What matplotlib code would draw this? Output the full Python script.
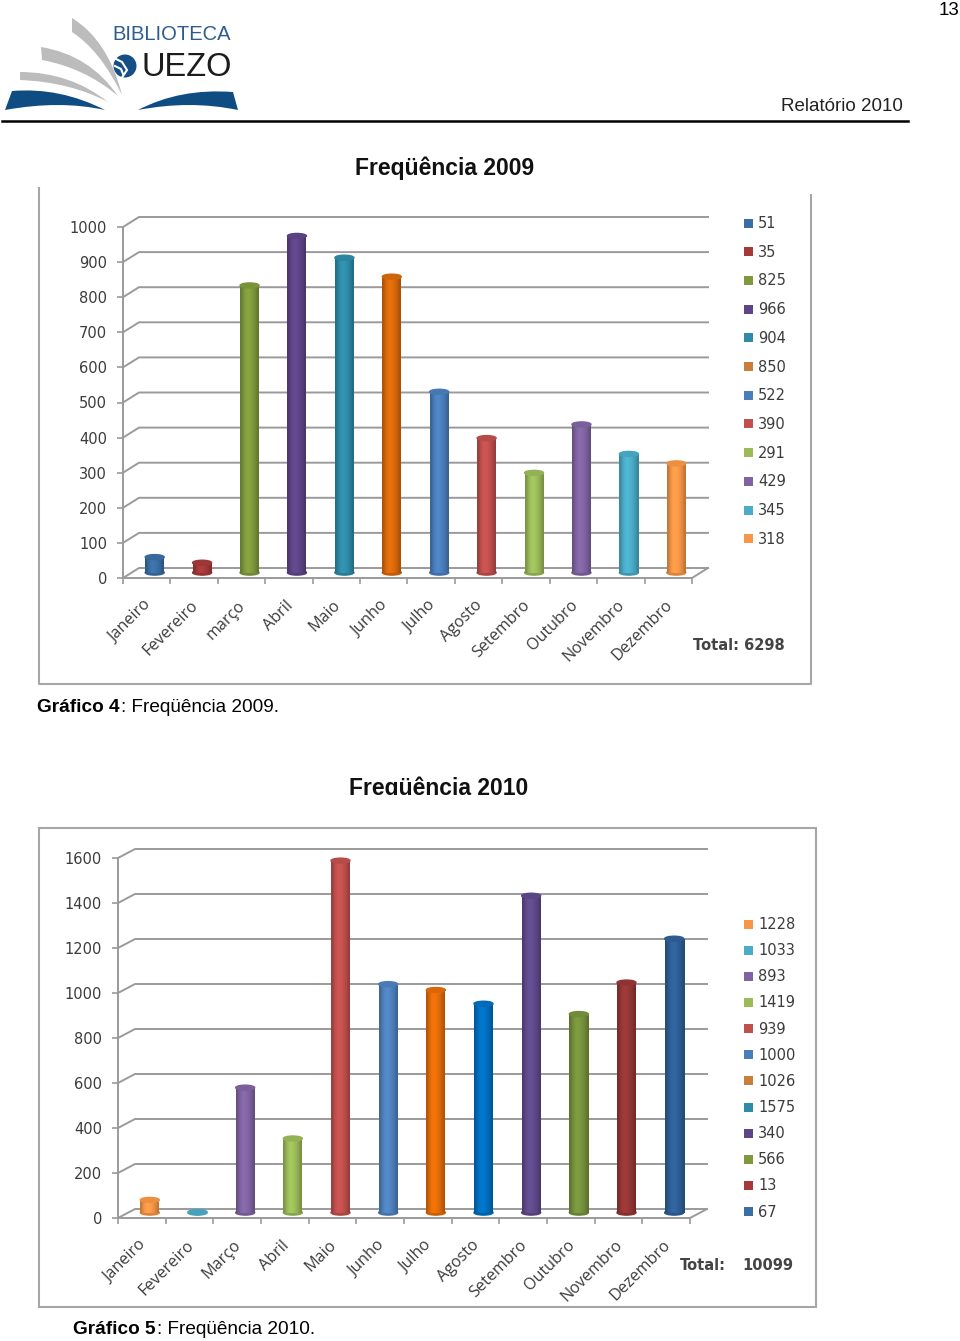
import numpy as np
import matplotlib
matplotlib.use('Agg')
import matplotlib.pyplot as plt
from matplotlib.patches import Ellipse, PathPatch, Rectangle, Circle
from matplotlib.path import Path
from matplotlib.colors import to_rgb
from matplotlib.transforms import ScaledTranslation

W, H = 960, 1341

months_2009 = ['Janeiro', 'Fevereiro', 'março', 'Abril', 'Maio', 'Junho', 'Julho',
               'Agosto', 'Setembro', 'Outubro', 'Novembro', 'Dezembro']
values_2009 = [51, 35, 825, 966, 904, 850, 522, 390, 291, 429, 345, 318]
colors_2009 = ['#3a6ea5', '#a5393a', '#7f9a3d', '#5e4586', '#2f8ba8', '#d9690c',
               '#4a7ebb', '#c0504d', '#9bbb59', '#8064a2', '#4bacc6', '#f79646']
legend_colors_2009 = ['#3a6ea5', '#a5393a', '#7f9a3d', '#5e4586', '#2f8ba8', '#c87f3c',
                      '#4a7ebb', '#c0504d', '#9bbb59', '#8064a2', '#4bacc6', '#f79646']
ticks_2009 = [0, 100, 200, 300, 400, 500, 600, 700, 800, 900, 1000]

months_2010 = ['Janeiro', 'Fevereiro', 'Março', 'Abril', 'Maio', 'Junho', 'Julho',
               'Agosto', 'Setembro', 'Outubro', 'Novembro', 'Dezembro']
values_2010 = [67, 13, 566, 340, 1575, 1026, 1000, 939, 1419, 893, 1033, 1228]
colors_2010 = ['#f79646', '#4bacc6', '#8064a2', '#9bbb59', '#c0504d', '#4f81bd',
               '#e46c0a', '#0070c0', '#5f4a8b', '#76923c', '#953735', '#2f5f97']
ticks_2010 = [0, 200, 400, 600, 800, 1000, 1200, 1400, 1600]
# legend of 2010 runs from december down to january, with its own colours
legend_2010 = values_2010[::-1]
legend_colors_2010 = ['#f79646', '#4bacc6', '#8064a2', '#9bbb59', '#c0504d', '#4a7ebb',
                      '#c87f3c', '#2f8ba8', '#5e4586', '#7f9a3d', '#a5393a', '#3a6ea5']

shade = np.array([0.8, 0.95, 1.05, 1.08, 1.04, 0.98, 0.9, 0.78])
axis_gray = '#9a9a9a'
label_font = 'Open Sans'
number_font = 'DejaVu Sans'

fig = plt.figure(figsize=(W / 100, H / 100), dpi=100)

# whole page in pixel coordinates, for the things that are not the chart
page = fig.add_axes([0, 0, 1, 1])
page.set_xlim(0, W)
page.set_ylim(H, 0)
page.axis('off')


def chart(left, right, y0, ytop, values, colors, labels, ticks, back_dx, back_dy, wall_right):
    ax = fig.add_axes([left / W, 1 - y0 / H, (right - left) / W, (y0 - ytop) / H])
    ax.patch.set_alpha(0)
    ax.set_xlim(-0.5, 11.5)
    ax.set_ylim(0, ticks[-1])
    ax.set_autoscale_on(False)
    xpx = (right - left) / 12
    ypx = (y0 - ytop) / ticks[-1]

    # back wall lines
    end = (wall_right - left) / xpx - 0.5
    for v in ticks:
        yb = v + back_dy / ypx
        ax.plot([-0.5, -0.5 + back_dx / xpx, end], [v, yb, yb], color=axis_gray, lw=1.4,
                clip_on=False, zorder=1)
    ax.plot([11.5, end], [0, back_dy / ypx], color=axis_gray, lw=1.4, clip_on=False, zorder=1)

    # cylinders
    bw = 19 / xpx
    ox = 8 / xpx
    oy = 3 / ypx
    eh = 5 / ypx
    for i, v in enumerate(values):
        c = np.array(to_rgb(colors[i]))
        grad = np.clip(shade[:, None] * c[None, :], 0, 1)[None, :, :]
        x = i + ox
        base = Ellipse((x, oy * 1.8), bw, eh, color=tuple(c * 0.88), zorder=3, clip_on=False)
        ax.add_patch(base)
        ax.imshow(grad, extent=(x - bw / 2, x + bw / 2, oy * 1.8, v + oy), aspect='auto',
                  interpolation='bilinear', zorder=4, clip_on=False)
        top = Ellipse((x, v + oy), bw, eh, color=tuple(c * 0.95), zorder=5, clip_on=False)
        ax.add_patch(top)

    for s in ['top', 'right']:
        ax.spines[s].set_visible(False)
    for s in ['left', 'bottom']:
        ax.spines[s].set_color(axis_gray)
        ax.spines[s].set_linewidth(1.4)
    ax.set_yticks(ticks)
    ax.set_yticklabels([str(t) for t in ticks], fontsize=10.5, color='#3c3c3c', family=number_font)
    ax.tick_params(axis='y', length=4.5, width=1.2, color=axis_gray, pad=7)
    ax.set_xticks(np.arange(12))
    ax.set_xticklabels(labels, rotation=45, ha='right', va='top', rotation_mode='anchor',
                       fontsize=11.6, color='#3c3c3c', family=label_font)
    ax.set_xticks(np.arange(13) - 0.5, minor=True)
    ax.tick_params(axis='x', which='major', length=0, pad=14)
    ax.tick_params(axis='x', which='minor', length=4.5, width=1.2, color=axis_gray)
    # nudge the slanted labels to the left
    shift = ScaledTranslation(-4 / 100, 0, fig.dpi_scale_trans)
    for t in ax.get_xticklabels():
        t.set_transform(t.get_transform() + shift)
    return ax


def legend(x, y, step, values, colors):
    for i, v in enumerate(values):
        yy = y + i * step
        page.add_patch(Rectangle((x, yy - 4.5), 9, 9, color=colors[i], lw=0))
        page.text(x + 14, yy + 0.5, str(v), fontsize=10.5, color='#3c3c3c', family=number_font,
                  va='center', ha='left')


def curved(points, codes, color):
    page.add_patch(PathPatch(Path(points, codes), facecolor=color, edgecolor='none'))


# header
page.plot([2, 908], [121, 121], color='black', lw=1.8)
page.text(959, 10, '13', fontsize=13.5, family='Liberation Sans', ha='right', va='center')
page.text(903, 106, 'Relatório 2010', fontsize=13.5, family='Liberation Sans', ha='right',
          va='center', color='#222222')

# logo
M, C, L = Path.MOVETO, Path.CURVE3, Path.LINETO
gray = '#bcbcbc'
blue = '#0f4c81'
curved([(72, 18), (108, 40), (122, 95), (100, 50), (72, 32), (72, 18)], [M, C, C, C, C, L], gray)
curved([(41, 47), (90, 55), (118, 96), (85, 68), (42, 60), (41, 47)], [M, C, C, C, C, L], gray)
curved([(20, 72), (70, 72), (108, 102), (70, 82), (20, 80), (20, 72)], [M, C, C, C, C, L], gray)
curved([(5, 110), (12, 91), (60, 87), (105, 110), (60, 100), (5, 110)], [M, L, C, C, C, C], blue)
curved([(138, 110), (180, 88), (233, 92), (238, 110), (190, 100), (138, 110)], [M, C, C, L, C, C], blue)
page.add_patch(Circle((125, 66), 11.5, color='#164f86', lw=0))
page.plot([114, 122, 127, 121], [58, 62, 70, 79], color='white', lw=1.5)
page.plot([115, 121, 123], [66, 69, 74], color='white', lw=1.5)
page.text(112, 34, 'BIBLIOTECA', fontsize=14.5, family='Liberation Sans', color='#2d5d8f',
          ha='left', va='center')
page.text(141, 67, 'UEZO', fontsize=23.5, family='Liberation Sans', color='#1c1c1c',
          ha='left', va='center')

# 2009
page.text(445, 168, 'Freqüência 2009', fontsize=16.5, fontweight='bold', family='Liberation Sans',
          ha='center', va='center', color='#111111')
page.plot([811, 811, 39, 39], [195, 684, 684, 188], color='#a6a6a6', lw=1.5)
chart(123, 692, 578, 227, values_2009, colors_2009, months_2009, ticks_2009, 16, 10, 708)
legend(744, 223, 28.7, values_2009, legend_colors_2009)
page.text(693, 645, 'Total: 6298', fontsize=10.5, fontweight='bold', family=number_font,
          color='#444444', va='center')
page.text(37, 707, 'Gráfico 4', fontsize=13.7, fontweight='bold', family='Liberation Sans', va='center')
page.text(121, 707, ': Freqüência 2009.', fontsize=13.7, family='Liberation Sans', va='center')

# 2010 title is cut off at the bottom in the original
page.text(439, 788, 'Freqüência 2010', fontsize=16.5, fontweight='bold', family='Liberation Sans',
          ha='center', va='center', color='#111111')
page.add_patch(Rectangle((300, 795), 300, 30, color='white', lw=0, zorder=3))
page.add_patch(Rectangle((39, 828), 777, 479, fill=False, edgecolor='#a6a6a6', lw=1.5))
chart(118, 690, 1218, 858, values_2010, colors_2010, months_2010, ticks_2010, 17, 9, 707)
legend(744, 924, 26.15, legend_2010, legend_colors_2010)
page.text(680, 1266, 'Total:', fontsize=10.5, fontweight='bold', family=number_font,
          color='#444444', va='center')
page.text(742, 1266, '10099', fontsize=10.5, fontweight='bold', family=number_font,
          color='#444444', va='center')
page.text(73, 1330, 'Gráfico 5', fontsize=13.7, fontweight='bold', family='Liberation Sans', va='center')
page.text(157, 1330, ': Freqüência 2010.', fontsize=13.7, family='Liberation Sans', va='center')

fig.savefig('out.png', dpi=100)
